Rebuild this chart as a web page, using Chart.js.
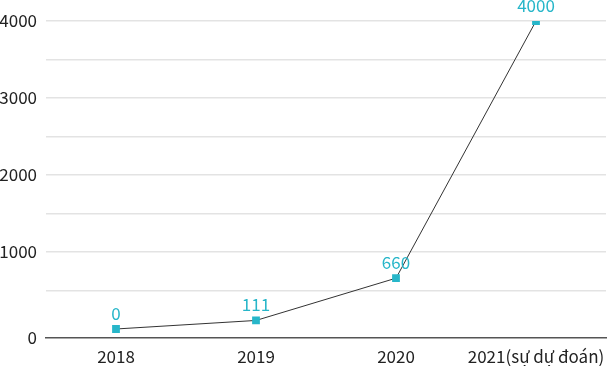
<!DOCTYPE html>
<html>
<head>
<meta charset="utf-8">
<script src="https://cdn.jsdelivr.net/npm/chart.js@4/dist/chart.umd.min.js"></script>
<style>
  html, body { margin: 0; padding: 0; background: #fff; overflow: hidden; }
  #wrap { width: 608px; height: 369px; position: relative; }
  canvas { display: block; }
</style>
</head>
<body>
<div id="wrap"><canvas id="growthChart"></canvas></div>
<script>
const years = ['2018', '2019', '2020', '2021(sự dự đoán)'];
const values = [0, 111, 660, 4000];
const yTicks = [500, 1000, 1500, 2000, 2500, 3000, 3500, 4000];
const yLabeled = [1000, 2000, 3000, 4000];
const yBottom = -117; // axis line sits a bit below zero in the original

const FONT = '"Noto Sans CJK SC", "Noto Sans", sans-serif';
const CYAN = '#27b6c9';

// draws the value above each point
const pointLabels = {
  id: 'pointLabels',
  afterDatasetsDraw(chart) {
    const ctx = chart.ctx;
    const meta = chart.getDatasetMeta(0);
    ctx.save();
    ctx.font = '17px ' + FONT;
    ctx.fillStyle = CYAN;
    ctx.textAlign = 'center';
    ctx.textBaseline = 'alphabetic';
    meta.data.forEach((pt, i) => {
      ctx.fillText(String(values[i]), pt.x, pt.y - 9);
    });
    ctx.restore();
  }
};

window.addEventListener('DOMContentLoaded', () => {
  const ctx = document.getElementById('growthChart').getContext('2d');

  new Chart(ctx, {
    type: 'line',
    data: {
      labels: years,
      datasets: [{
        data: values,
        borderColor: '#333',
        borderWidth: 1,
        pointStyle: 'rect',
        pointRadius: 5.5,
        pointHoverRadius: 5.5,
        pointBackgroundColor: CYAN,
        pointBorderColor: CYAN,
        pointBorderWidth: 0,
        tension: 0
      }]
    },
    options: {
      responsive: true,
      maintainAspectRatio: false,
      animation: false,
      layout: { autoPadding: false, padding: { top: 21, right: 2, bottom: 3, left: 0 } },
      plugins: {
        legend: { display: false },
        tooltip: { enabled: false }
      },
      scales: {
        x: {
          offset: true,
          grid: { display: false, drawTicks: false },
          border: { display: true, color: '#555', width: 1.5 },
          ticks: { color: '#222', padding: 8, maxRotation: 0, autoSkip: false, font: { family: FONT, size: 17 } },
          afterFit(scale) {
            scale.height = 28;
            scale.paddingLeft = 0;
            scale.paddingRight = 0;
          }
        },
        y: {
          min: yBottom,
          max: 4000,
          afterBuildTicks(scale) {
            scale.ticks = [{ value: yBottom }].concat(yTicks.map(v => ({ value: v })));
          },
          afterFit(scale) {
            scale.width = 46;
            scale.paddingTop = 0;
            scale.paddingBottom = 0;
          },
          grid: {
            drawTicks: false,
            color: c => (c.tick && c.tick.value === yBottom) ? 'rgba(0,0,0,0)' : '#e3e3e3',
            lineWidth: 1.5
          },
          border: { display: false },
          ticks: {
            color: '#222',
            padding: 9,
            autoSkip: false,
            font: { family: FONT, size: 17 },
            callback: v => v === yBottom ? '0' : (yLabeled.includes(v) ? String(v) : '')
          }
        }
      }
    },
    plugins: [pointLabels]
  });
});
</script>
</body>
</html>
